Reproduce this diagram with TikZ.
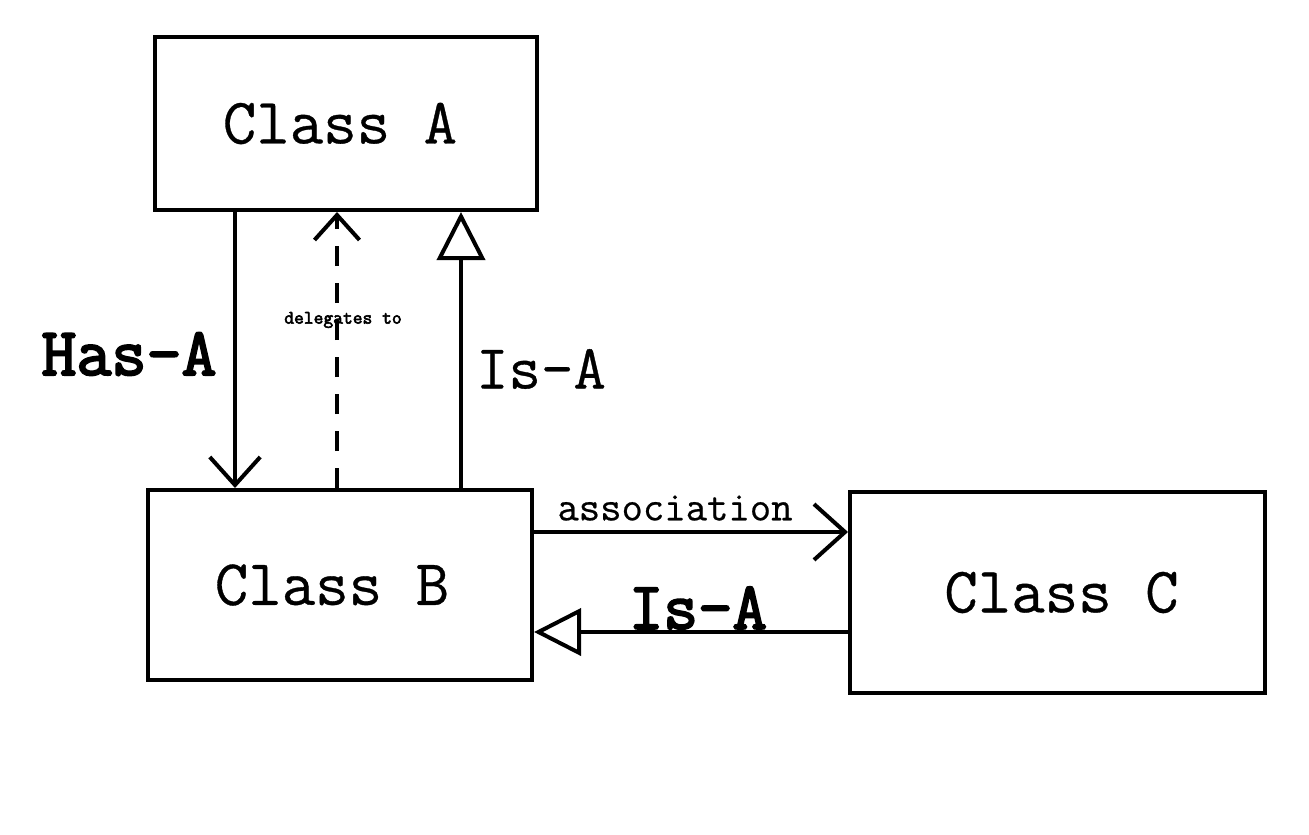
\documentclass[tikz,border=0pt]{standalone}
\usepackage{fontspec}
\newfontfamily\regmono{Latin Modern Mono}[FakeBold=0.5]
\newfontfamily\boldmono{Latin Modern Mono}[FakeBold=3]
\usetikzlibrary{arrows.meta}
\begin{document}
\begin{tikzpicture}[x=1pt,y=-1pt,
  box/.style={draw,line width=4pt,rectangle,inner sep=0pt,font=\regmono\fontsize{65}{66}\selectfont},
  conn/.style={line width=4pt},
  vtip/.style={-{Straight Barb[length=#1,width=1.8*#1,line width=4pt]}},
  ttip/.style={-{Triangle[open,length=#1,width=#1,line width=4pt]}},
  lbl/.style={inner sep=0pt,font=\regmono\fontsize{#1}{#1}\selectfont},
  blbl/.style={inner sep=0pt,font=\boldmono\fontsize{#1}{#1}\selectfont}]
\useasboundingbox (0,0) rectangle (1309,835);
\node[box,minimum width=382pt,minimum height=173pt] (A) at (346,123.5) {\raisebox{-3pt}{\hspace*{-12pt}Class A}};
\node[box,minimum width=384pt,minimum height=190pt] (B) at (340,585) {\raisebox{-10pt}{\hspace*{-16pt}Class B}};
\node[box,minimum width=415pt,minimum height=201pt] (C) at (1057.5,592.5) {\raisebox{-7pt}{\hspace*{8pt}Class C}};
\coordinate (hx) at (235,0);
\coordinate (dx) at (337,0);
\coordinate (ix) at (461,0);
\coordinate (ay) at (0,532);
\coordinate (by) at (0,632);
\draw[conn,vtip=28pt] (A.south -| hx) -- (B.north -| hx);
\draw[conn,dashed,dash pattern=on 20pt off 17pt,vtip=25pt] (B.north -| dx) -- (A.south -| dx);
\draw[conn,ttip=48pt] (B.north -| ix) -- (A.south -| ix);
\draw[conn,vtip=31pt] (B.east |- ay) -- (C.west |- ay);
\draw[conn,ttip=47pt] (C.west |- by) -- (B.east |- by);
\node[blbl=68] (hasa) at (129,354) {Has-A};
\node[blbl=19] (del) at (343,320) {delegates to};
\node[lbl=63] (isa1) at (541,369) {Is-A};
\node[lbl=41.5] (assoc) at (675,508) {association};
\node[blbl=67] (isa2) at (698,608) {Is-A};
\end{tikzpicture}
\end{document}
